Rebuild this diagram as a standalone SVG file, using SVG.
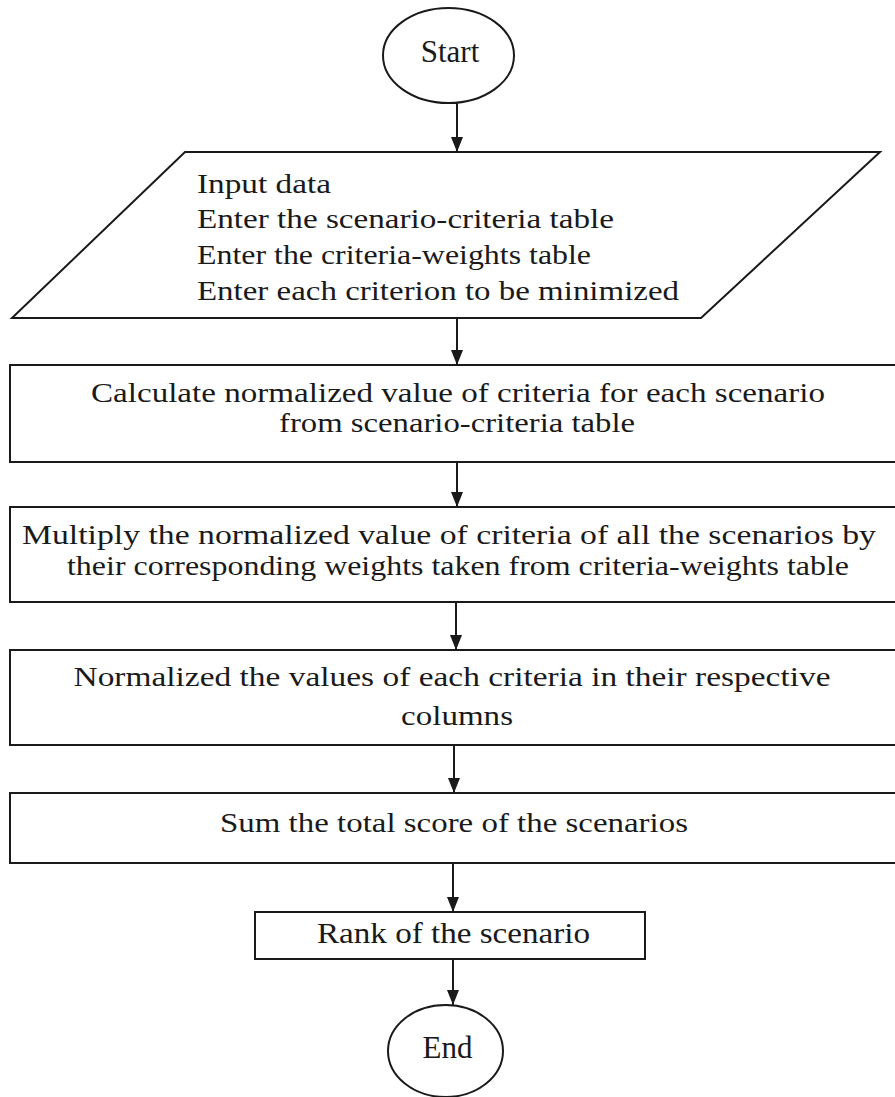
<svg xmlns="http://www.w3.org/2000/svg" width="895" height="1097" viewBox="0 0 895 1097">
  <style>
    .shape { fill: #ffffff; stroke: #1a1a1a; stroke-width: 2; }
    .label { font-family: "Liberation Serif", "Times New Roman", serif; font-size: 27px; fill: #1a1a1a; }
    .big { font-size: 31px; }
    .mid { text-anchor: middle; }
    .edge { stroke: #1a1a1a; stroke-width: 2; fill: none; marker-end: url(#head); }
  </style>
  <defs>
    <marker id="head" viewBox="0 0 15 12" refX="15" refY="6" markerWidth="15" markerHeight="12" markerUnits="userSpaceOnUse" orient="auto">
      <path d="M0,0 L15,6 L0,12 Z" fill="#1a1a1a"/>
    </marker>
  </defs>
  <rect width="895" height="1097" fill="#ffffff"/>

  <!-- connectors -->
  <g id="connectors">
    <line class="edge" x1="457" y1="103" x2="457" y2="152"/>
    <line class="edge" x1="457" y1="318" x2="457" y2="365"/>
    <line class="edge" x1="457" y1="462" x2="457" y2="507"/>
    <line class="edge" x1="456" y1="602" x2="456" y2="650"/>
    <line class="edge" x1="454" y1="745" x2="454" y2="793"/>
    <line class="edge" x1="453" y1="863" x2="453" y2="912"/>
    <line class="edge" x1="453" y1="959" x2="453" y2="1005"/>
  </g>

  <g id="start">
    <ellipse class="shape" cx="448.5" cy="55.5" rx="65.5" ry="47.5"/>
    <text class="label big mid" x="450" y="62">Start</text>
  </g>

  <g id="input">
    <polygon class="shape" points="185,152 880,152 701,318 12,318"/>
    <text class="label" x="197" y="193" textLength="134" lengthAdjust="spacingAndGlyphs">Input data</text>
    <text class="label" x="197" y="228" textLength="417" lengthAdjust="spacingAndGlyphs">Enter the scenario-criteria table</text>
    <text class="label" x="197" y="264" textLength="394" lengthAdjust="spacingAndGlyphs">Enter the criteria-weights table</text>
    <text class="label" x="197" y="300" textLength="482" lengthAdjust="spacingAndGlyphs">Enter each criterion to be minimized</text>
  </g>

  <g id="normalize">
    <rect class="shape" x="10" y="365" width="890" height="97"/>
    <text class="label mid" x="458" y="402" textLength="734" lengthAdjust="spacingAndGlyphs">Calculate normalized value of criteria for each scenario</text>
    <text class="label mid" x="457" y="432" textLength="356" lengthAdjust="spacingAndGlyphs">from scenario-criteria table</text>
  </g>

  <g id="weight">
    <rect class="shape" x="10" y="507" width="890" height="95"/>
    <text class="label mid" x="449" y="544" textLength="854" lengthAdjust="spacingAndGlyphs">Multiply the normalized value of criteria of all the scenarios by</text>
    <text class="label mid" x="458" y="575" textLength="782" lengthAdjust="spacingAndGlyphs">their corresponding weights taken from criteria-weights table</text>
  </g>

  <g id="renormalize">
    <rect class="shape" x="10" y="650" width="890" height="95"/>
    <text class="label mid" x="452" y="686" textLength="757" lengthAdjust="spacingAndGlyphs">Normalized the values of each criteria in their respective</text>
    <text class="label mid" x="457" y="725" textLength="112" lengthAdjust="spacingAndGlyphs">columns</text>
  </g>

  <g id="sum">
    <rect class="shape" x="10" y="793" width="890" height="70"/>
    <text class="label mid" x="454" y="832" textLength="468" lengthAdjust="spacingAndGlyphs">Sum the total score of the scenarios</text>
  </g>

  <g id="rank">
    <rect class="shape" x="255" y="912" width="390" height="47"/>
    <text class="label mid" x="453.5" y="943" style="font-size:30px" textLength="273" lengthAdjust="spacingAndGlyphs">Rank of the scenario</text>
  </g>

  <g id="end">
    <ellipse class="shape" cx="445.5" cy="1051" rx="57.5" ry="46"/>
    <text class="label big mid" x="447.5" y="1058">End</text>
  </g>
</svg>
